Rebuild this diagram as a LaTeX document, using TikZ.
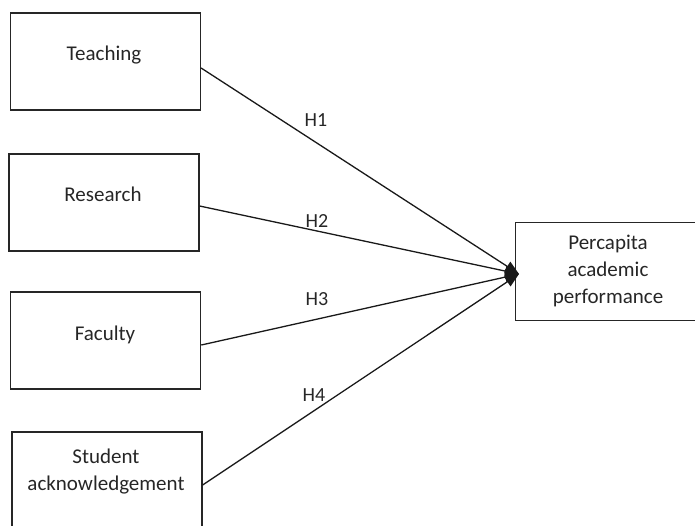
\documentclass[tikz,border=0pt]{standalone}
\usepackage{fontspec}
\setmainfont{Carlito}
\usetikzlibrary{arrows.meta,calc}
\definecolor{txtgray}{HTML}{262626}
\tikzset{
  srcbox/.style={draw=black!85, line width=1.2pt, minimum width=190pt, minimum height=97pt, inner sep=0pt},
  boxtext/.style={text=txtgray, font=\fontsize{21}{27}\selectfont, inner sep=0pt, align=center},
  hlabel/.style={text=txtgray, font=\fontsize{20}{24}\selectfont, inner sep=0pt},
  link/.style={draw=black!90, line width=1.3pt, -{Triangle[length=14pt,width=11pt]}}
}
\begin{document}
\begin{tikzpicture}[x=1pt,y=-1pt]
\useasboundingbox (0,0) rectangle (695,525);
\begin{scope}
\clip (0,0) rectangle (695,525);
\node[srcbox] (teach) at (105.5,61.5) {};
\node[boxtext, anchor=base] (teachT) at (104,60) {Teaching};
\node[srcbox] (res) at (104,202.5) {};
\node[boxtext, anchor=base] (resT) at (103,201) {Research};
\node[srcbox] (fac) at (105.7,340.5) {};
\node[boxtext, anchor=base] (facT) at (105,340) {Faculty};
\node[srcbox] (stu) at (107,480.5) {};
\node[boxtext] (stuT) at (106,472) {Student\\acknowledgement};
\node[minimum width=260pt, minimum height=97pt, inner sep=0pt] (perf) at (646,271.5) {};
\draw[black!85, line width=1.2pt] (perf.north east) -- (perf.north west) -- (perf.south west) -- (perf.south east);
\node[boxtext] (perfT) at (608,271) {Percapita\\academic\\performance};
\coordinate (tip) at (519,274);
\draw[link] ($(teach.east)+(0,6.5)$) -- (tip);
\draw[link] ($(res.east)+(0,3.5)$) -- (tip);
\draw[link] ($(fac.east)+(0,4.5)$) -- (tip);
\draw[link] ($(stu.east)+(0,4.5)$) -- (tip);
\node[hlabel] (h1) at (316,120) {H1};
\node[hlabel] (h2) at (317,221) {H2};
\node[hlabel] (h3) at (317,299) {H3};
\node[hlabel] (h4) at (314,395) {H4};
\end{scope}
\end{tikzpicture}
\end{document}
